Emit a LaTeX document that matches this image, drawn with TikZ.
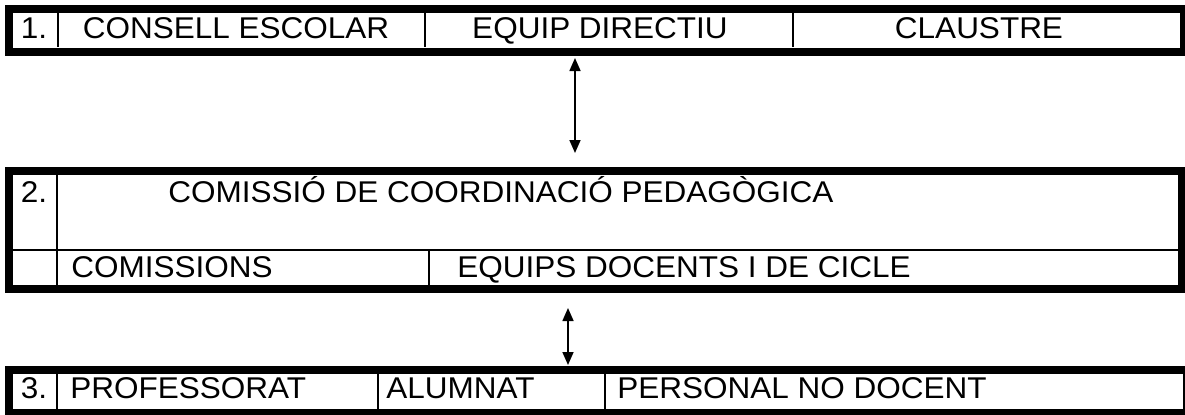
\documentclass[tikz,border=0pt]{standalone}
\usepackage{fontspec}
\setmainfont{Liberation Sans}[FakeStretch=1.05]
\usetikzlibrary{arrows.meta}

\begin{document}
\begin{tikzpicture}[x=0.5pt, y=-0.5pt,
        frame/.style={line width=4pt},
        rule/.style={line width=1pt},
        cell/.style={inner sep=0pt, font=\fontsize{15}{17}\selectfont},
        link/.style={line width=0.8pt,
            {Triangle[length=6.5pt,width=5.5pt]}-{Triangle[length=6.5pt,width=5.5pt]}}]
        \useasboundingbox (0,0) rectangle (1185,414);
        % level 1
        \draw[frame] (9,9) rectangle (1184,51.5);
        \draw[rule] (58,13) -- (58,47) (425,13) -- (425,47) (793,13) -- (793,47);
        \node[cell, anchor=base] (num1) at (34,38) {1.};
        \node[cell, anchor=base] (consell) at (236,38) {CONSELL ESCOLAR};
        \node[cell, anchor=base] (equip) at (600,38) {EQUIP DIRECTIU};
        \node[cell, anchor=base] (claustre) at (979,38) {CLAUSTRE};
        % level 2
        \draw[frame] (9,171) rectangle (1182,289);
        \draw[rule] (13,249.5) -- (1178,249.5);
        \draw[rule] (57,175) -- (57,285) (429,249.5) -- (429,285);
        \node[cell, anchor=base] (num2) at (34,202) {2.};
        \node[cell, anchor=base west] (ccp) at (168,202) {COMISSIÓ DE COORDINACIÓ PEDAGÒGICA};
        \node[cell, anchor=base west] (comissions) at (71,277) {COMISSIONS};
        \node[cell, anchor=base west] (equips) at (457,277) {EQUIPS DOCENTS I DE CICLE};
        % level 3
        \draw[frame] (9,370) rectangle (1187,413);
        \draw[rule] (57,374) -- (57,409) (378,374) -- (378,409) (605,374) -- (605,409);
        \node[cell, anchor=base] (num3) at (34,398) {3.};
        \node[cell, anchor=base west] (prof) at (70,398) {PROFESSORAT};
        \node[cell, anchor=base west] (alumnat) at (386,398) {ALUMNAT};
        \node[cell, anchor=base west] (pnd) at (617,398) {PERSONAL NO DOCENT};
        % links between levels
        \coordinate (up1) at (575,58);
        \coordinate (down1) at (575,153);
        \coordinate (up2) at (568,308);
        \coordinate (down2) at (568,365);
        \draw[link] (up1) -- (down1);
        \draw[link] (up2) -- (down2);
    \end{tikzpicture}
\end{document}
